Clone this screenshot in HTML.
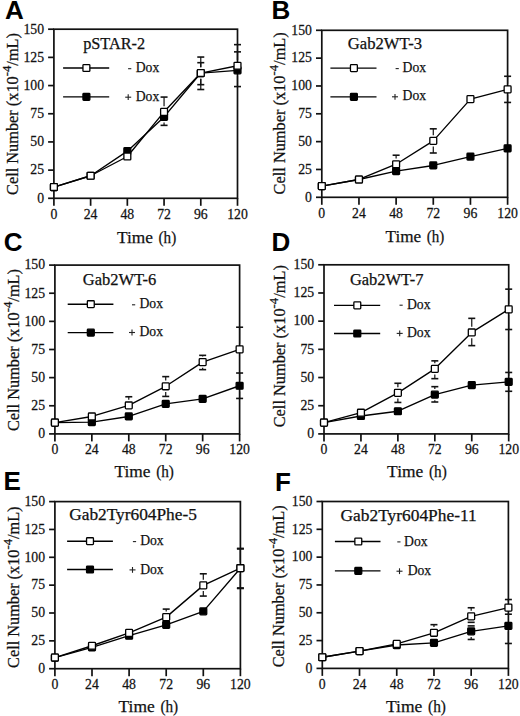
<!DOCTYPE html>
<html><head><meta charset="utf-8"><style>
html,body{margin:0;padding:0;background:#fff;}
svg{display:block;}
text{font-family:"Liberation Serif",serif;fill:#111;stroke:#111;stroke-width:0.25px;}
.let{stroke:none;font-family:"Liberation Sans",sans-serif;font-weight:bold;font-size:26px;fill:#000;}
.tk{font-size:14.5px;}
.lab{font-size:17px;}
.ylab{font-size:16px;}
.sup{font-size:12.5px;}
.ttl{font-size:16.5px;}
.leg{font-size:15.6px;}
.ax{fill:none;stroke:#111;stroke-width:1.7;}
.dl{fill:none;stroke:#000;stroke-width:1.35;stroke-linejoin:round;}
.eb{stroke:#111;stroke-width:1.2;}
.cap{stroke:#111;stroke-width:1.6;}
.sym{stroke:#222;stroke-width:1.1;}
.mo{fill:#fff;stroke:#000;stroke-width:1.3;}
.mf{fill:#000;stroke:#000;stroke-width:1.3;}
</style></head><body>
<svg width="520" height="716" viewBox="0 0 520 716">
<g><text x="5" y="18.8" class="let">A</text><rect x="53.9" y="29.2" width="183.6" height="169.1" class="ax"/><line x1="48.1" y1="198.3" x2="53.9" y2="198.3" class="ax"/><text transform="translate(44.1,202.6) scale(0.95,1)" class="tk" text-anchor="end">0</text><line x1="48.1" y1="170.12" x2="53.9" y2="170.12" class="ax"/><text transform="translate(44.1,174.42) scale(0.95,1)" class="tk" text-anchor="end">25</text><line x1="48.1" y1="141.93" x2="53.9" y2="141.93" class="ax"/><text transform="translate(44.1,146.23) scale(0.95,1)" class="tk" text-anchor="end">50</text><line x1="48.1" y1="113.75" x2="53.9" y2="113.75" class="ax"/><text transform="translate(44.1,118.05) scale(0.95,1)" class="tk" text-anchor="end">75</text><line x1="48.1" y1="85.57" x2="53.9" y2="85.57" class="ax"/><text transform="translate(44.1,89.87) scale(0.95,1)" class="tk" text-anchor="end">100</text><line x1="48.1" y1="57.38" x2="53.9" y2="57.38" class="ax"/><text transform="translate(44.1,61.68) scale(0.95,1)" class="tk" text-anchor="end">125</text><line x1="48.1" y1="29.2" x2="53.9" y2="29.2" class="ax"/><text transform="translate(44.1,33.5) scale(0.95,1)" class="tk" text-anchor="end">150</text><line x1="53.9" y1="198.3" x2="53.9" y2="205.8" class="ax"/><text transform="translate(53.9,218.5) scale(0.95,1)" class="tk" text-anchor="middle">0</text><line x1="90.62" y1="198.3" x2="90.62" y2="205.8" class="ax"/><text transform="translate(90.62,218.5) scale(0.95,1)" class="tk" text-anchor="middle">24</text><line x1="127.34" y1="198.3" x2="127.34" y2="205.8" class="ax"/><text transform="translate(127.34,218.5) scale(0.95,1)" class="tk" text-anchor="middle">48</text><line x1="164.06" y1="198.3" x2="164.06" y2="205.8" class="ax"/><text transform="translate(164.06,218.5) scale(0.95,1)" class="tk" text-anchor="middle">72</text><line x1="200.78" y1="198.3" x2="200.78" y2="205.8" class="ax"/><text transform="translate(200.78,218.5) scale(0.95,1)" class="tk" text-anchor="middle">96</text><line x1="237.5" y1="198.3" x2="237.5" y2="205.8" class="ax"/><text transform="translate(237.5,218.5) scale(0.95,1)" class="tk" text-anchor="middle">120</text><text x="116.95" y="242.7" class="lab" textLength="35.89" lengthAdjust="spacingAndGlyphs">Time</text><text x="158.53" y="242.7" class="lab" textLength="17.68" lengthAdjust="spacingAndGlyphs">(h)</text><text transform="translate(18.2,195) rotate(-90) scale(1.0203,1)" class="ylab">Cell Number (x10<tspan class="sup" dy="-7">-4</tspan><tspan dy="7">/mL)</tspan></text><text x="83.15" y="48.6" class="ttl" textLength="61.99" lengthAdjust="spacingAndGlyphs">pSTAR-2</text><line x1="63.1" y1="68" x2="109.2" y2="68" class="dl"/><rect x="82.95" y="64.55" width="6.9" height="6.9" rx="0.8" class="mo"/><line x1="128.1" y1="68.7" x2="131.3" y2="68.7" class="sym"/><text x="135.76" y="72.3" class="leg" textLength="23.53" lengthAdjust="spacingAndGlyphs">Dox</text><line x1="63.1" y1="96.9" x2="109.2" y2="96.9" class="dl"/><rect x="82.95" y="93.45" width="6.9" height="6.9" rx="0.8" class="mf"/><line x1="125.2" y1="97.2" x2="131.2" y2="97.2" class="sym"/><line x1="128.2" y1="94.3" x2="128.2" y2="100.1" class="sym"/><text x="135.76" y="100.8" class="leg" textLength="23.53" lengthAdjust="spacingAndGlyphs">Dox</text><line x1="164.06" y1="106.13" x2="164.06" y2="97.07" class="eb"/><line x1="160.56" y1="97.07" x2="167.56" y2="97.07" class="cap"/><line x1="164.06" y1="122.61" x2="164.06" y2="125.36" class="eb"/><line x1="160.56" y1="125.36" x2="167.56" y2="125.36" class="cap"/><line x1="200.78" y1="67.35" x2="200.78" y2="57.05" class="eb"/><line x1="197.28" y1="57.05" x2="204.28" y2="57.05" class="cap"/><line x1="200.78" y1="67.35" x2="200.78" y2="62.68" class="eb"/><line x1="197.28" y1="62.68" x2="204.28" y2="62.68" class="cap"/><line x1="200.78" y1="78.75" x2="200.78" y2="84.66" class="eb"/><line x1="197.28" y1="84.66" x2="204.28" y2="84.66" class="cap"/><line x1="200.78" y1="78.75" x2="200.78" y2="89.51" class="eb"/><line x1="197.28" y1="89.51" x2="204.28" y2="89.51" class="cap"/><line x1="237.5" y1="60.03" x2="237.5" y2="44.64" class="eb"/><line x1="234" y1="44.64" x2="241" y2="44.64" class="cap"/><line x1="237.5" y1="60.03" x2="237.5" y2="51.86" class="eb"/><line x1="234" y1="51.86" x2="241" y2="51.86" class="cap"/><line x1="237.5" y1="76.05" x2="237.5" y2="86.58" class="eb"/><line x1="234" y1="86.58" x2="241" y2="86.58" class="cap"/><polyline points="53.9,187.03 90.62,175.75 127.34,151.18 164.06,116.91 200.78,73.05 237.5,70.35" class="dl"/><polyline points="53.9,187.03 90.62,175.75 127.34,156.48 164.06,111.83 200.78,73.05 237.5,65.73" class="dl"/><rect x="50.45" y="183.58" width="6.9" height="6.9" rx="0.8" class="mf"/><rect x="87.17" y="172.3" width="6.9" height="6.9" rx="0.8" class="mf"/><rect x="123.89" y="147.73" width="6.9" height="6.9" rx="0.8" class="mf"/><rect x="160.61" y="113.46" width="6.9" height="6.9" rx="0.8" class="mf"/><rect x="197.33" y="69.6" width="6.9" height="6.9" rx="0.8" class="mf"/><rect x="234.05" y="66.9" width="6.9" height="6.9" rx="0.8" class="mf"/><rect x="50.45" y="183.58" width="6.9" height="6.9" rx="0.8" class="mo"/><rect x="87.17" y="172.3" width="6.9" height="6.9" rx="0.8" class="mo"/><rect x="123.89" y="153.03" width="6.9" height="6.9" rx="0.8" class="mo"/><rect x="160.61" y="108.38" width="6.9" height="6.9" rx="0.8" class="mo"/><rect x="197.33" y="69.6" width="6.9" height="6.9" rx="0.8" class="mo"/><rect x="234.05" y="62.28" width="6.9" height="6.9" rx="0.8" class="mo"/></g>
<g><text x="271.5" y="19.4" class="let">B</text><rect x="321.8" y="30.3" width="185.8" height="167" class="ax"/><line x1="316" y1="197.3" x2="321.8" y2="197.3" class="ax"/><text transform="translate(312,201.6) scale(0.95,1)" class="tk" text-anchor="end">0</text><line x1="316" y1="169.47" x2="321.8" y2="169.47" class="ax"/><text transform="translate(312,173.77) scale(0.95,1)" class="tk" text-anchor="end">25</text><line x1="316" y1="141.63" x2="321.8" y2="141.63" class="ax"/><text transform="translate(312,145.93) scale(0.95,1)" class="tk" text-anchor="end">50</text><line x1="316" y1="113.8" x2="321.8" y2="113.8" class="ax"/><text transform="translate(312,118.1) scale(0.95,1)" class="tk" text-anchor="end">75</text><line x1="316" y1="85.97" x2="321.8" y2="85.97" class="ax"/><text transform="translate(312,90.27) scale(0.95,1)" class="tk" text-anchor="end">100</text><line x1="316" y1="58.13" x2="321.8" y2="58.13" class="ax"/><text transform="translate(312,62.43) scale(0.95,1)" class="tk" text-anchor="end">125</text><line x1="316" y1="30.3" x2="321.8" y2="30.3" class="ax"/><text transform="translate(312,34.6) scale(0.95,1)" class="tk" text-anchor="end">150</text><line x1="321.8" y1="197.3" x2="321.8" y2="204.8" class="ax"/><text transform="translate(321.8,217.5) scale(0.95,1)" class="tk" text-anchor="middle">0</text><line x1="358.96" y1="197.3" x2="358.96" y2="204.8" class="ax"/><text transform="translate(358.96,217.5) scale(0.95,1)" class="tk" text-anchor="middle">24</text><line x1="396.12" y1="197.3" x2="396.12" y2="204.8" class="ax"/><text transform="translate(396.12,217.5) scale(0.95,1)" class="tk" text-anchor="middle">48</text><line x1="433.28" y1="197.3" x2="433.28" y2="204.8" class="ax"/><text transform="translate(433.28,217.5) scale(0.95,1)" class="tk" text-anchor="middle">72</text><line x1="470.44" y1="197.3" x2="470.44" y2="204.8" class="ax"/><text transform="translate(470.44,217.5) scale(0.95,1)" class="tk" text-anchor="middle">96</text><line x1="507.6" y1="197.3" x2="507.6" y2="204.8" class="ax"/><text transform="translate(507.6,217.5) scale(0.95,1)" class="tk" text-anchor="middle">120</text><text x="385.55" y="242.4" class="lab" textLength="35.59" lengthAdjust="spacingAndGlyphs">Time</text><text x="426.78" y="242.4" class="lab" textLength="17.53" lengthAdjust="spacingAndGlyphs">(h)</text><text transform="translate(284.5,194.4) rotate(-90) scale(1.0222,1)" class="ylab">Cell Number (x10<tspan class="sup" dy="-7">-4</tspan><tspan dy="7">/mL)</tspan></text><text x="347.74" y="48.8" class="ttl" textLength="74.29" lengthAdjust="spacingAndGlyphs">Gab2WT-3</text><line x1="330.4" y1="68.1" x2="376.5" y2="68.1" class="dl"/><rect x="350.45" y="64.65" width="6.9" height="6.9" rx="0.8" class="mo"/><line x1="395.6" y1="68.6" x2="398.8" y2="68.6" class="sym"/><text x="402.56" y="72.2" class="leg" textLength="23.53" lengthAdjust="spacingAndGlyphs">Dox</text><line x1="330.4" y1="96.9" x2="376.5" y2="96.9" class="dl"/><rect x="350.45" y="93.45" width="6.9" height="6.9" rx="0.8" class="mf"/><line x1="392" y1="96.8" x2="398" y2="96.8" class="sym"/><line x1="395" y1="93.9" x2="395" y2="99.7" class="sym"/><text x="402.56" y="100.4" class="leg" textLength="23.53" lengthAdjust="spacingAndGlyphs">Dox</text><line x1="396.12" y1="158.53" x2="396.12" y2="155.22" class="eb"/><line x1="392.62" y1="155.22" x2="399.62" y2="155.22" class="cap"/><line x1="433.28" y1="135.15" x2="433.28" y2="128.83" class="eb"/><line x1="429.78" y1="128.83" x2="436.78" y2="128.83" class="cap"/><line x1="433.28" y1="146.55" x2="433.28" y2="152.99" class="eb"/><line x1="429.78" y1="152.99" x2="436.78" y2="152.99" class="cap"/><line x1="507.6" y1="83.72" x2="507.6" y2="76.28" class="eb"/><line x1="504.1" y1="76.28" x2="511.1" y2="76.28" class="cap"/><line x1="507.6" y1="95.12" x2="507.6" y2="102.44" class="eb"/><line x1="504.1" y1="102.44" x2="511.1" y2="102.44" class="cap"/><polyline points="321.8,186.17 358.96,179.49 396.12,171.14 433.28,165.46 470.44,156.55 507.6,148.31" class="dl"/><polyline points="321.8,186.17 358.96,179.49 396.12,164.23 433.28,140.85 470.44,99.1 507.6,89.42" class="dl"/><rect x="318.35" y="182.72" width="6.9" height="6.9" rx="0.8" class="mf"/><rect x="355.51" y="176.04" width="6.9" height="6.9" rx="0.8" class="mf"/><rect x="392.67" y="167.69" width="6.9" height="6.9" rx="0.8" class="mf"/><rect x="429.83" y="162.01" width="6.9" height="6.9" rx="0.8" class="mf"/><rect x="466.99" y="153.1" width="6.9" height="6.9" rx="0.8" class="mf"/><rect x="504.15" y="144.86" width="6.9" height="6.9" rx="0.8" class="mf"/><rect x="318.35" y="182.72" width="6.9" height="6.9" rx="0.8" class="mo"/><rect x="355.51" y="176.04" width="6.9" height="6.9" rx="0.8" class="mo"/><rect x="392.67" y="160.78" width="6.9" height="6.9" rx="0.8" class="mo"/><rect x="429.83" y="137.4" width="6.9" height="6.9" rx="0.8" class="mo"/><rect x="466.99" y="95.65" width="6.9" height="6.9" rx="0.8" class="mo"/><rect x="504.15" y="85.97" width="6.9" height="6.9" rx="0.8" class="mo"/></g>
<g><text x="3.8" y="251.3" class="let">C</text><rect x="54.9" y="265.1" width="184.7" height="168.8" class="ax"/><line x1="49.1" y1="433.9" x2="54.9" y2="433.9" class="ax"/><text transform="translate(45.1,438.2) scale(0.95,1)" class="tk" text-anchor="end">0</text><line x1="49.1" y1="405.77" x2="54.9" y2="405.77" class="ax"/><text transform="translate(45.1,410.07) scale(0.95,1)" class="tk" text-anchor="end">25</text><line x1="49.1" y1="377.63" x2="54.9" y2="377.63" class="ax"/><text transform="translate(45.1,381.93) scale(0.95,1)" class="tk" text-anchor="end">50</text><line x1="49.1" y1="349.5" x2="54.9" y2="349.5" class="ax"/><text transform="translate(45.1,353.8) scale(0.95,1)" class="tk" text-anchor="end">75</text><line x1="49.1" y1="321.37" x2="54.9" y2="321.37" class="ax"/><text transform="translate(45.1,325.67) scale(0.95,1)" class="tk" text-anchor="end">100</text><line x1="49.1" y1="293.23" x2="54.9" y2="293.23" class="ax"/><text transform="translate(45.1,297.53) scale(0.95,1)" class="tk" text-anchor="end">125</text><line x1="49.1" y1="265.1" x2="54.9" y2="265.1" class="ax"/><text transform="translate(45.1,269.4) scale(0.95,1)" class="tk" text-anchor="end">150</text><line x1="54.9" y1="433.9" x2="54.9" y2="441.4" class="ax"/><text transform="translate(54.9,454.1) scale(0.95,1)" class="tk" text-anchor="middle">0</text><line x1="91.84" y1="433.9" x2="91.84" y2="441.4" class="ax"/><text transform="translate(91.84,454.1) scale(0.95,1)" class="tk" text-anchor="middle">24</text><line x1="128.78" y1="433.9" x2="128.78" y2="441.4" class="ax"/><text transform="translate(128.78,454.1) scale(0.95,1)" class="tk" text-anchor="middle">48</text><line x1="165.72" y1="433.9" x2="165.72" y2="441.4" class="ax"/><text transform="translate(165.72,454.1) scale(0.95,1)" class="tk" text-anchor="middle">72</text><line x1="202.66" y1="433.9" x2="202.66" y2="441.4" class="ax"/><text transform="translate(202.66,454.1) scale(0.95,1)" class="tk" text-anchor="middle">96</text><line x1="239.6" y1="433.9" x2="239.6" y2="441.4" class="ax"/><text transform="translate(239.6,454.1) scale(0.95,1)" class="tk" text-anchor="middle">120</text><text x="114.55" y="477.3" class="lab" textLength="35.96" lengthAdjust="spacingAndGlyphs">Time</text><text x="156.2" y="477.3" class="lab" textLength="17.71" lengthAdjust="spacingAndGlyphs">(h)</text><text transform="translate(18.75,431.1) rotate(-90) scale(1.0216,1)" class="ylab">Cell Number (x10<tspan class="sup" dy="-7">-4</tspan><tspan dy="7">/mL)</tspan></text><text x="82.75" y="284.7" class="ttl" textLength="73.62" lengthAdjust="spacingAndGlyphs">Gab2WT-6</text><line x1="67.7" y1="304.2" x2="113.4" y2="304.2" class="dl"/><rect x="87.35" y="300.75" width="6.9" height="6.9" rx="0.8" class="mo"/><line x1="132" y1="304.8" x2="135.2" y2="304.8" class="sym"/><text x="139.46" y="308.4" class="leg" textLength="23.53" lengthAdjust="spacingAndGlyphs">Dox</text><line x1="67.7" y1="332.6" x2="113.4" y2="332.6" class="dl"/><rect x="87.35" y="329.15" width="6.9" height="6.9" rx="0.8" class="mf"/><line x1="129" y1="332.5" x2="135" y2="332.5" class="sym"/><line x1="132" y1="329.6" x2="132" y2="335.4" class="sym"/><text x="139.46" y="336.1" class="leg" textLength="23.53" lengthAdjust="spacingAndGlyphs">Dox</text><line x1="128.78" y1="399.73" x2="128.78" y2="396.76" class="eb"/><line x1="125.28" y1="396.76" x2="132.28" y2="396.76" class="cap"/><line x1="165.72" y1="380.6" x2="165.72" y2="376.62" class="eb"/><line x1="162.22" y1="376.62" x2="169.22" y2="376.62" class="cap"/><line x1="165.72" y1="392" x2="165.72" y2="396.43" class="eb"/><line x1="162.22" y1="396.43" x2="169.22" y2="396.43" class="cap"/><line x1="202.66" y1="356.4" x2="202.66" y2="355.35" class="eb"/><line x1="199.16" y1="355.35" x2="206.16" y2="355.35" class="cap"/><line x1="202.66" y1="367.8" x2="202.66" y2="369.64" class="eb"/><line x1="199.16" y1="369.64" x2="206.16" y2="369.64" class="cap"/><line x1="239.6" y1="343.69" x2="239.6" y2="327.22" class="eb"/><line x1="236.1" y1="327.22" x2="243.1" y2="327.22" class="cap"/><line x1="239.6" y1="380.04" x2="239.6" y2="373.02" class="eb"/><line x1="236.1" y1="373.02" x2="243.1" y2="373.02" class="cap"/><line x1="239.6" y1="391.44" x2="239.6" y2="398.45" class="eb"/><line x1="236.1" y1="398.45" x2="243.1" y2="398.45" class="cap"/><polyline points="54.9,422.65 91.84,422.08 128.78,416.46 165.72,403.85 202.66,398.9 239.6,385.74" class="dl"/><polyline points="54.9,422.65 91.84,416.46 128.78,405.43 165.72,386.3 202.66,362.1 239.6,349.39" class="dl"/><rect x="51.45" y="419.2" width="6.9" height="6.9" rx="0.8" class="mf"/><rect x="88.39" y="418.63" width="6.9" height="6.9" rx="0.8" class="mf"/><rect x="125.33" y="413.01" width="6.9" height="6.9" rx="0.8" class="mf"/><rect x="162.27" y="400.4" width="6.9" height="6.9" rx="0.8" class="mf"/><rect x="199.21" y="395.45" width="6.9" height="6.9" rx="0.8" class="mf"/><rect x="236.15" y="382.29" width="6.9" height="6.9" rx="0.8" class="mf"/><rect x="51.45" y="419.2" width="6.9" height="6.9" rx="0.8" class="mo"/><rect x="88.39" y="413.01" width="6.9" height="6.9" rx="0.8" class="mo"/><rect x="125.33" y="401.98" width="6.9" height="6.9" rx="0.8" class="mo"/><rect x="162.27" y="382.85" width="6.9" height="6.9" rx="0.8" class="mo"/><rect x="199.21" y="358.65" width="6.9" height="6.9" rx="0.8" class="mo"/><rect x="236.15" y="345.94" width="6.9" height="6.9" rx="0.8" class="mo"/></g>
<g><text x="271.6" y="250.8" class="let">D</text><rect x="324" y="264.8" width="184.7" height="169.1" class="ax"/><line x1="318.2" y1="433.9" x2="324" y2="433.9" class="ax"/><text transform="translate(314.2,438.2) scale(0.95,1)" class="tk" text-anchor="end">0</text><line x1="318.2" y1="405.72" x2="324" y2="405.72" class="ax"/><text transform="translate(314.2,410.02) scale(0.95,1)" class="tk" text-anchor="end">25</text><line x1="318.2" y1="377.53" x2="324" y2="377.53" class="ax"/><text transform="translate(314.2,381.83) scale(0.95,1)" class="tk" text-anchor="end">50</text><line x1="318.2" y1="349.35" x2="324" y2="349.35" class="ax"/><text transform="translate(314.2,353.65) scale(0.95,1)" class="tk" text-anchor="end">75</text><line x1="318.2" y1="321.17" x2="324" y2="321.17" class="ax"/><text transform="translate(314.2,325.47) scale(0.95,1)" class="tk" text-anchor="end">100</text><line x1="318.2" y1="292.98" x2="324" y2="292.98" class="ax"/><text transform="translate(314.2,297.28) scale(0.95,1)" class="tk" text-anchor="end">125</text><line x1="318.2" y1="264.8" x2="324" y2="264.8" class="ax"/><text transform="translate(314.2,269.1) scale(0.95,1)" class="tk" text-anchor="end">150</text><line x1="324" y1="433.9" x2="324" y2="441.4" class="ax"/><text transform="translate(324,454.1) scale(0.95,1)" class="tk" text-anchor="middle">0</text><line x1="360.94" y1="433.9" x2="360.94" y2="441.4" class="ax"/><text transform="translate(360.94,454.1) scale(0.95,1)" class="tk" text-anchor="middle">24</text><line x1="397.88" y1="433.9" x2="397.88" y2="441.4" class="ax"/><text transform="translate(397.88,454.1) scale(0.95,1)" class="tk" text-anchor="middle">48</text><line x1="434.82" y1="433.9" x2="434.82" y2="441.4" class="ax"/><text transform="translate(434.82,454.1) scale(0.95,1)" class="tk" text-anchor="middle">72</text><line x1="471.76" y1="433.9" x2="471.76" y2="441.4" class="ax"/><text transform="translate(471.76,454.1) scale(0.95,1)" class="tk" text-anchor="middle">96</text><line x1="508.7" y1="433.9" x2="508.7" y2="441.4" class="ax"/><text transform="translate(508.7,454.1) scale(0.95,1)" class="tk" text-anchor="middle">120</text><text x="387.14" y="476.8" class="lab" textLength="36.08" lengthAdjust="spacingAndGlyphs">Time</text><text x="428.95" y="476.8" class="lab" textLength="17.77" lengthAdjust="spacingAndGlyphs">(h)</text><text transform="translate(284.9,427.3) rotate(-90) scale(1.0222,1)" class="ylab">Cell Number (x10<tspan class="sup" dy="-7">-4</tspan><tspan dy="7">/mL)</tspan></text><text x="349.95" y="284.7" class="ttl" textLength="73.42" lengthAdjust="spacingAndGlyphs">Gab2WT-7</text><line x1="334" y1="305.4" x2="380.2" y2="305.4" class="dl"/><rect x="353.85" y="301.95" width="6.9" height="6.9" rx="0.8" class="mo"/><line x1="399.5" y1="305.2" x2="402.7" y2="305.2" class="sym"/><text x="406.96" y="308.8" class="leg" textLength="23.53" lengthAdjust="spacingAndGlyphs">Dox</text><line x1="334" y1="333.5" x2="380.2" y2="333.5" class="dl"/><rect x="353.85" y="330.05" width="6.9" height="6.9" rx="0.8" class="mf"/><line x1="396.7" y1="333.4" x2="402.7" y2="333.4" class="sym"/><line x1="399.7" y1="330.5" x2="399.7" y2="336.3" class="sym"/><text x="406.96" y="337" class="leg" textLength="23.53" lengthAdjust="spacingAndGlyphs">Dox</text><line x1="397.88" y1="387.17" x2="397.88" y2="383.28" class="eb"/><line x1="394.38" y1="383.28" x2="401.38" y2="383.28" class="cap"/><line x1="397.88" y1="398.57" x2="397.88" y2="402.45" class="eb"/><line x1="394.38" y1="402.45" x2="401.38" y2="402.45" class="cap"/><line x1="434.82" y1="363.15" x2="434.82" y2="360.85" class="eb"/><line x1="431.32" y1="360.85" x2="438.32" y2="360.85" class="cap"/><line x1="434.82" y1="374.55" x2="434.82" y2="378.66" class="eb"/><line x1="431.32" y1="378.66" x2="438.32" y2="378.66" class="cap"/><line x1="434.82" y1="388.97" x2="434.82" y2="386.66" class="eb"/><line x1="431.32" y1="386.66" x2="438.32" y2="386.66" class="cap"/><line x1="434.82" y1="400.37" x2="434.82" y2="402" class="eb"/><line x1="431.32" y1="402" x2="438.32" y2="402" class="cap"/><line x1="471.76" y1="326.74" x2="471.76" y2="318.35" class="eb"/><line x1="468.26" y1="318.35" x2="475.26" y2="318.35" class="cap"/><line x1="471.76" y1="338.14" x2="471.76" y2="345.63" class="eb"/><line x1="468.26" y1="345.63" x2="475.26" y2="345.63" class="cap"/><line x1="508.7" y1="303.63" x2="508.7" y2="289.15" class="eb"/><line x1="505.2" y1="289.15" x2="512.2" y2="289.15" class="cap"/><line x1="508.7" y1="315.03" x2="508.7" y2="329.51" class="eb"/><line x1="505.2" y1="329.51" x2="512.2" y2="329.51" class="cap"/><line x1="508.7" y1="376.12" x2="508.7" y2="372.46" class="eb"/><line x1="505.2" y1="372.46" x2="512.2" y2="372.46" class="cap"/><line x1="508.7" y1="387.52" x2="508.7" y2="391.29" class="eb"/><line x1="505.2" y1="391.29" x2="512.2" y2="391.29" class="cap"/><polyline points="324,422.63 360.94,415.98 397.88,411.24 434.82,394.67 471.76,385.2 508.7,381.82" class="dl"/><polyline points="324,422.63 360.94,412.71 397.88,392.87 434.82,368.85 471.76,332.44 508.7,309.33" class="dl"/><rect x="320.55" y="419.18" width="6.9" height="6.9" rx="0.8" class="mf"/><rect x="357.49" y="412.53" width="6.9" height="6.9" rx="0.8" class="mf"/><rect x="394.43" y="407.79" width="6.9" height="6.9" rx="0.8" class="mf"/><rect x="431.37" y="391.22" width="6.9" height="6.9" rx="0.8" class="mf"/><rect x="468.31" y="381.75" width="6.9" height="6.9" rx="0.8" class="mf"/><rect x="505.25" y="378.37" width="6.9" height="6.9" rx="0.8" class="mf"/><rect x="320.55" y="419.18" width="6.9" height="6.9" rx="0.8" class="mo"/><rect x="357.49" y="409.26" width="6.9" height="6.9" rx="0.8" class="mo"/><rect x="394.43" y="389.42" width="6.9" height="6.9" rx="0.8" class="mo"/><rect x="431.37" y="365.4" width="6.9" height="6.9" rx="0.8" class="mo"/><rect x="468.31" y="328.99" width="6.9" height="6.9" rx="0.8" class="mo"/><rect x="505.25" y="305.88" width="6.9" height="6.9" rx="0.8" class="mo"/></g>
<g><text x="3.6" y="490.2" class="let">E</text><rect x="54.9" y="501.6" width="185.5" height="167.1" class="ax"/><line x1="49.1" y1="668.7" x2="54.9" y2="668.7" class="ax"/><text transform="translate(45.1,673) scale(0.95,1)" class="tk" text-anchor="end">0</text><line x1="49.1" y1="640.85" x2="54.9" y2="640.85" class="ax"/><text transform="translate(45.1,645.15) scale(0.95,1)" class="tk" text-anchor="end">25</text><line x1="49.1" y1="613" x2="54.9" y2="613" class="ax"/><text transform="translate(45.1,617.3) scale(0.95,1)" class="tk" text-anchor="end">50</text><line x1="49.1" y1="585.15" x2="54.9" y2="585.15" class="ax"/><text transform="translate(45.1,589.45) scale(0.95,1)" class="tk" text-anchor="end">75</text><line x1="49.1" y1="557.3" x2="54.9" y2="557.3" class="ax"/><text transform="translate(45.1,561.6) scale(0.95,1)" class="tk" text-anchor="end">100</text><line x1="49.1" y1="529.45" x2="54.9" y2="529.45" class="ax"/><text transform="translate(45.1,533.75) scale(0.95,1)" class="tk" text-anchor="end">125</text><line x1="49.1" y1="501.6" x2="54.9" y2="501.6" class="ax"/><text transform="translate(45.1,505.9) scale(0.95,1)" class="tk" text-anchor="end">150</text><line x1="54.9" y1="668.7" x2="54.9" y2="676.2" class="ax"/><text transform="translate(54.9,688.9) scale(0.95,1)" class="tk" text-anchor="middle">0</text><line x1="92" y1="668.7" x2="92" y2="676.2" class="ax"/><text transform="translate(92,688.9) scale(0.95,1)" class="tk" text-anchor="middle">24</text><line x1="129.1" y1="668.7" x2="129.1" y2="676.2" class="ax"/><text transform="translate(129.1,688.9) scale(0.95,1)" class="tk" text-anchor="middle">48</text><line x1="166.2" y1="668.7" x2="166.2" y2="676.2" class="ax"/><text transform="translate(166.2,688.9) scale(0.95,1)" class="tk" text-anchor="middle">72</text><line x1="203.3" y1="668.7" x2="203.3" y2="676.2" class="ax"/><text transform="translate(203.3,688.9) scale(0.95,1)" class="tk" text-anchor="middle">96</text><line x1="240.4" y1="668.7" x2="240.4" y2="676.2" class="ax"/><text transform="translate(240.4,688.9) scale(0.95,1)" class="tk" text-anchor="middle">120</text><text x="118.54" y="711.7" class="lab" textLength="36.14" lengthAdjust="spacingAndGlyphs">Time</text><text x="160.42" y="711.7" class="lab" textLength="17.8" lengthAdjust="spacingAndGlyphs">(h)</text><text transform="translate(18.75,667.9) rotate(-90) scale(1.0171,1)" class="ylab">Cell Number (x10<tspan class="sup" dy="-7">-4</tspan><tspan dy="7">/mL)</tspan></text><text x="69.21" y="520.2" class="ttl" textLength="127.68" lengthAdjust="spacingAndGlyphs">Gab2Tyr604Phe-5</text><line x1="67.1" y1="541.2" x2="112.9" y2="541.2" class="dl"/><rect x="86.55" y="537.75" width="6.9" height="6.9" rx="0.8" class="mo"/><line x1="132.9" y1="541.6" x2="136.1" y2="541.6" class="sym"/><text x="140.16" y="545.2" class="leg" textLength="23.53" lengthAdjust="spacingAndGlyphs">Dox</text><line x1="67.1" y1="569.5" x2="112.9" y2="569.5" class="dl"/><rect x="86.55" y="566.05" width="6.9" height="6.9" rx="0.8" class="mf"/><line x1="129.5" y1="569.9" x2="135.5" y2="569.9" class="sym"/><line x1="132.5" y1="567" x2="132.5" y2="572.8" class="sym"/><text x="140.16" y="573.5" class="leg" textLength="23.53" lengthAdjust="spacingAndGlyphs">Dox</text><line x1="166.2" y1="611.42" x2="166.2" y2="609.1" class="eb"/><line x1="162.7" y1="609.1" x2="169.7" y2="609.1" class="cap"/><line x1="203.3" y1="579.67" x2="203.3" y2="573.79" class="eb"/><line x1="199.8" y1="573.79" x2="206.8" y2="573.79" class="cap"/><line x1="203.3" y1="591.07" x2="203.3" y2="596.07" class="eb"/><line x1="199.8" y1="596.07" x2="206.8" y2="596.07" class="cap"/><line x1="240.4" y1="562.52" x2="240.4" y2="548.39" class="eb"/><line x1="236.9" y1="548.39" x2="243.9" y2="548.39" class="cap"/><line x1="240.4" y1="573.92" x2="240.4" y2="588.49" class="eb"/><line x1="236.9" y1="588.49" x2="243.9" y2="588.49" class="cap"/><line x1="240.4" y1="562.52" x2="240.4" y2="548.95" class="eb"/><line x1="236.9" y1="548.95" x2="243.9" y2="548.95" class="cap"/><line x1="240.4" y1="573.92" x2="240.4" y2="587.94" class="eb"/><line x1="236.9" y1="587.94" x2="243.9" y2="587.94" class="cap"/><polyline points="54.9,657.56 92,647.31 129.1,635.73 166.2,624.81 203.3,611.33 240.4,568.22" class="dl"/><polyline points="54.9,657.56 92,645.75 129.1,632.83 166.2,617.12 203.3,585.37 240.4,568.22" class="dl"/><rect x="51.45" y="654.11" width="6.9" height="6.9" rx="0.8" class="mf"/><rect x="88.55" y="643.86" width="6.9" height="6.9" rx="0.8" class="mf"/><rect x="125.65" y="632.28" width="6.9" height="6.9" rx="0.8" class="mf"/><rect x="162.75" y="621.36" width="6.9" height="6.9" rx="0.8" class="mf"/><rect x="199.85" y="607.88" width="6.9" height="6.9" rx="0.8" class="mf"/><rect x="236.95" y="564.77" width="6.9" height="6.9" rx="0.8" class="mf"/><rect x="51.45" y="654.11" width="6.9" height="6.9" rx="0.8" class="mo"/><rect x="88.55" y="642.3" width="6.9" height="6.9" rx="0.8" class="mo"/><rect x="125.65" y="629.38" width="6.9" height="6.9" rx="0.8" class="mo"/><rect x="162.75" y="613.67" width="6.9" height="6.9" rx="0.8" class="mo"/><rect x="199.85" y="581.92" width="6.9" height="6.9" rx="0.8" class="mo"/><rect x="236.95" y="564.77" width="6.9" height="6.9" rx="0.8" class="mo"/></g>
<g><text x="275.1" y="490.7" class="let">F</text><rect x="322.3" y="501.5" width="186.1" height="166.9" class="ax"/><line x1="316.5" y1="668.4" x2="322.3" y2="668.4" class="ax"/><text transform="translate(312.5,672.7) scale(0.95,1)" class="tk" text-anchor="end">0</text><line x1="316.5" y1="640.58" x2="322.3" y2="640.58" class="ax"/><text transform="translate(312.5,644.88) scale(0.95,1)" class="tk" text-anchor="end">25</text><line x1="316.5" y1="612.77" x2="322.3" y2="612.77" class="ax"/><text transform="translate(312.5,617.07) scale(0.95,1)" class="tk" text-anchor="end">50</text><line x1="316.5" y1="584.95" x2="322.3" y2="584.95" class="ax"/><text transform="translate(312.5,589.25) scale(0.95,1)" class="tk" text-anchor="end">75</text><line x1="316.5" y1="557.13" x2="322.3" y2="557.13" class="ax"/><text transform="translate(312.5,561.43) scale(0.95,1)" class="tk" text-anchor="end">100</text><line x1="316.5" y1="529.32" x2="322.3" y2="529.32" class="ax"/><text transform="translate(312.5,533.62) scale(0.95,1)" class="tk" text-anchor="end">125</text><line x1="316.5" y1="501.5" x2="322.3" y2="501.5" class="ax"/><text transform="translate(312.5,505.8) scale(0.95,1)" class="tk" text-anchor="end">150</text><line x1="322.3" y1="668.4" x2="322.3" y2="675.9" class="ax"/><text transform="translate(322.3,688.6) scale(0.95,1)" class="tk" text-anchor="middle">0</text><line x1="359.52" y1="668.4" x2="359.52" y2="675.9" class="ax"/><text transform="translate(359.52,688.6) scale(0.95,1)" class="tk" text-anchor="middle">24</text><line x1="396.74" y1="668.4" x2="396.74" y2="675.9" class="ax"/><text transform="translate(396.74,688.6) scale(0.95,1)" class="tk" text-anchor="middle">48</text><line x1="433.96" y1="668.4" x2="433.96" y2="675.9" class="ax"/><text transform="translate(433.96,688.6) scale(0.95,1)" class="tk" text-anchor="middle">72</text><line x1="471.18" y1="668.4" x2="471.18" y2="675.9" class="ax"/><text transform="translate(471.18,688.6) scale(0.95,1)" class="tk" text-anchor="middle">96</text><line x1="508.4" y1="668.4" x2="508.4" y2="675.9" class="ax"/><text transform="translate(508.4,688.6) scale(0.95,1)" class="tk" text-anchor="middle">120</text><text x="386.04" y="711.5" class="lab" textLength="36.26" lengthAdjust="spacingAndGlyphs">Time</text><text x="428.06" y="711.5" class="lab" textLength="17.86" lengthAdjust="spacingAndGlyphs">(h)</text><text transform="translate(284.3,667.3) rotate(-90) scale(1.0203,1)" class="ylab">Cell Number (x10<tspan class="sup" dy="-7">-4</tspan><tspan dy="7">/mL)</tspan></text><text x="340.51" y="520.5" class="ttl" textLength="136.19" lengthAdjust="spacingAndGlyphs">Gab2Tyr604Phe-11</text><line x1="334.9" y1="541.5" x2="380.5" y2="541.5" class="dl"/><rect x="354.85" y="538.05" width="6.9" height="6.9" rx="0.8" class="mo"/><line x1="397.3" y1="541.9" x2="400.5" y2="541.9" class="sym"/><text x="404.06" y="545.5" class="leg" textLength="23.53" lengthAdjust="spacingAndGlyphs">Dox</text><line x1="334.9" y1="570.8" x2="380.5" y2="570.8" class="dl"/><rect x="354.85" y="567.35" width="6.9" height="6.9" rx="0.8" class="mf"/><line x1="396.5" y1="571.2" x2="402.5" y2="571.2" class="sym"/><line x1="399.5" y1="568.3" x2="399.5" y2="574.1" class="sym"/><text x="407.66" y="574.8" class="leg" textLength="23.53" lengthAdjust="spacingAndGlyphs">Dox</text><line x1="433.96" y1="627.09" x2="433.96" y2="624.67" class="eb"/><line x1="430.46" y1="624.67" x2="437.46" y2="624.67" class="cap"/><line x1="471.18" y1="610.63" x2="471.18" y2="607.76" class="eb"/><line x1="467.68" y1="607.76" x2="474.68" y2="607.76" class="cap"/><line x1="467.68" y1="622.34" x2="474.68" y2="622.34" class="cap"/><line x1="467.68" y1="625.9" x2="474.68" y2="625.9" class="cap"/><line x1="471.18" y1="637.05" x2="471.18" y2="639.47" class="eb"/><line x1="467.68" y1="639.47" x2="474.68" y2="639.47" class="cap"/><line x1="508.4" y1="601.95" x2="508.4" y2="599.53" class="eb"/><line x1="504.9" y1="599.53" x2="511.9" y2="599.53" class="cap"/><line x1="508.4" y1="613.35" x2="508.4" y2="614.21" class="eb"/><line x1="504.9" y1="614.21" x2="511.9" y2="614.21" class="cap"/><line x1="508.4" y1="631.6" x2="508.4" y2="643.48" class="eb"/><line x1="504.9" y1="643.48" x2="511.9" y2="643.48" class="cap"/><polyline points="322.3,657.27 359.52,651.15 396.74,645.03 433.96,642.92 471.18,631.35 508.4,625.9" class="dl"/><polyline points="322.3,657.27 359.52,651.15 396.74,643.92 433.96,632.79 471.18,616.33 508.4,607.65" class="dl"/><rect x="318.85" y="653.82" width="6.9" height="6.9" rx="0.8" class="mf"/><rect x="356.07" y="647.7" width="6.9" height="6.9" rx="0.8" class="mf"/><rect x="393.29" y="641.58" width="6.9" height="6.9" rx="0.8" class="mf"/><rect x="430.51" y="639.47" width="6.9" height="6.9" rx="0.8" class="mf"/><rect x="467.73" y="627.9" width="6.9" height="6.9" rx="0.8" class="mf"/><rect x="504.95" y="622.45" width="6.9" height="6.9" rx="0.8" class="mf"/><rect x="318.85" y="653.82" width="6.9" height="6.9" rx="0.8" class="mo"/><rect x="356.07" y="647.7" width="6.9" height="6.9" rx="0.8" class="mo"/><rect x="393.29" y="640.47" width="6.9" height="6.9" rx="0.8" class="mo"/><rect x="430.51" y="629.34" width="6.9" height="6.9" rx="0.8" class="mo"/><rect x="467.73" y="612.88" width="6.9" height="6.9" rx="0.8" class="mo"/><rect x="504.95" y="604.2" width="6.9" height="6.9" rx="0.8" class="mo"/></g>
</svg>
</body></html>
